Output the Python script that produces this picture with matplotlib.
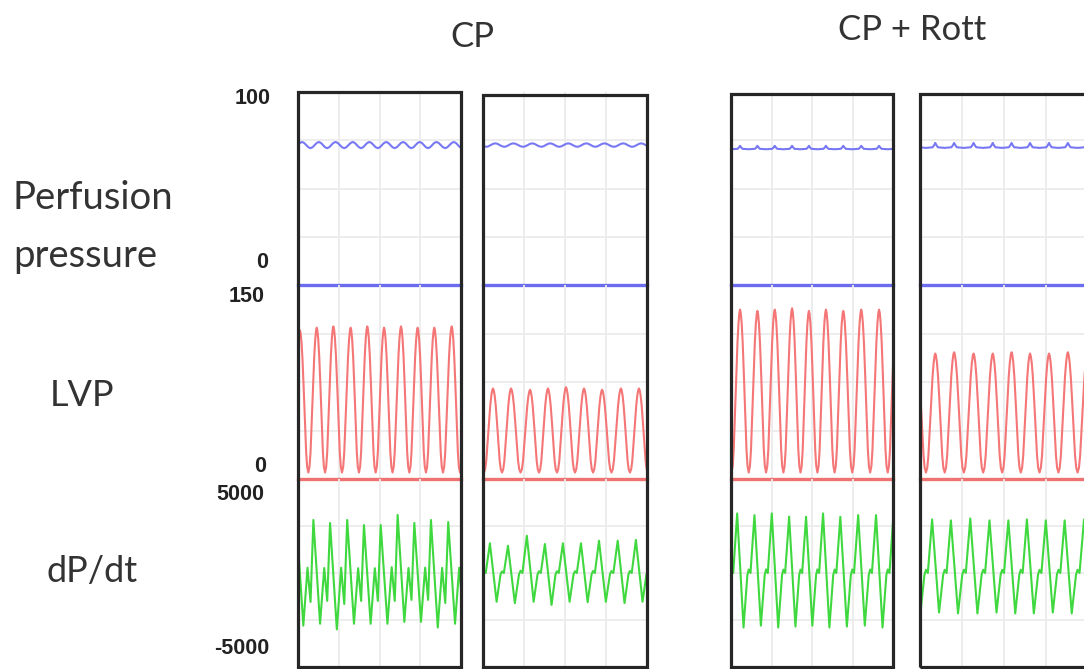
import matplotlib
matplotlib.use("Agg")
import matplotlib.pyplot as plt
from matplotlib.patches import Rectangle

# ---------------- data ----------------
conditions = ["CP", "CP + Rott"]
row_labels = ["Perfusion", "pressure", "LVP", "dP/dt"]
perf_ticks = ["100", "0"]
lvp_ticks = ["150", "0"]
dpdt_ticks = ["5000", "-5000"]

perf_range = [0, 100]
lvp_range = [0, 150]
dpdt_range = [-5000, 5000]

# LVP peak times, as fraction of the displayed window, per panel
p1_peak_t = [-0.09, 0.012, 0.115, 0.217, 0.323, 0.425, 0.528, 0.632, 0.734, 0.836, 0.943, 1.045]
p2_peak_t = [-0.05, 0.061, 0.171, 0.287, 0.396, 0.506, 0.616, 0.726, 0.841, 0.951, 1.06]
p3_peak_t = [-0.05, 0.056, 0.163, 0.270, 0.377, 0.481, 0.586, 0.693, 0.804, 0.914, 1.021]
p4_peak_t = [-0.02, 0.091, 0.203, 0.319, 0.433, 0.545, 0.655, 0.768, 0.880, 0.996, 1.11]

# LVP systolic peak per beat (mmHg)
p1_lvp_sys = [116, 115, 117, 118, 117, 118, 117, 118, 117, 117, 118, 117]
p2_lvp_sys = [69, 70, 70, 69, 70, 71, 70, 69, 70, 70, 70]
p3_lvp_sys = [131, 131, 130, 131, 132, 130, 131, 130, 131, 131, 131]
p4_lvp_sys = [97, 97, 98, 97, 97, 98, 97, 97, 98, 97, 97]
lvp_dia = [5, 5, 5, 5]

# dP/dt max (before each LVP peak) and min (after each LVP peak), mmHg/s
p1_dpdt_max = [2800, 2700, 2820, 2660, 2820, 2550, 2550, 3090, 2660, 2820, 2710, 2800]
p1_dpdt_min = [-2800, -2800, -2700, -3000, -2700, -2700, -2700, -2600, -2600, -2900, -2700, -2800]
p2_dpdt_max = [1600, 1580, 1450, 1980, 1540, 1580, 1580, 1720, 1720, 1760, 1600]
p2_dpdt_min = [-1550, -1530, -1600, -1530, -1700, -1530, -1550, -1530, -1600, -1530, -1550]
p3_dpdt_max = [3100, 3170, 3080, 3170, 3000, 2990, 3170, 2990, 3080, 3080, 3100]
p3_dpdt_min = [-2850, -2900, -2800, -2900, -2850, -2800, -2900, -2850, -2800, -2900, -2850]
p4_dpdt_max = [2800, 2850, 2800, 2900, 2800, 2800, 2850, 2800, 2800, 2850, 2800]
p4_dpdt_min = [-2150, -2100, -2150, -2150, -2100, -2150, -2150, -2100, -2150, -2150, -2100]

# perfusion pressure mean level and ripple amplitude per panel (mmHg)
perf_mean = [72.5, 72.5, 71.0, 72.0]
perf_ripple = [1.6, 0.9, 1.1, 1.6]

# beat shapes (phase after an LVP peak, level)
LVP_PHASE = [0.0, 0.04, 0.09, 0.15, 0.22, 0.3, 0.37, 0.43, 0.5, 0.57, 0.63, 0.7, 0.78, 0.85, 0.91, 0.96]
LVP_LEVEL = [1.0, 0.98, 0.92, 0.8, 0.6, 0.35, 0.14, 0.04, 0.0, 0.04, 0.14, 0.35, 0.6, 0.8, 0.92, 0.98]
DPDT_PHASE = [0.2, 0.42, 0.5, 0.6, 0.83]
DPDT_LEVEL = [-1.0, -0.04, 0.06, 0.0, 1.0]
DPDT_CP_PHASE = [0.2, 0.45, 0.63, 0.8]
DPDT_CP_LEVEL = [-1.0, 0.1, -0.55, 1.0]
PERF_WAVE_PHASE = [0.0, 0.125, 0.25, 0.375, 0.5, 0.625, 0.75, 0.875]
PERF_WAVE_LEVEL = [0.7, 1.0, 0.7, 0.0, -0.7, -1.0, -0.7, 0.0]
PERF_BUMP_PHASE = [0.0, 0.06, 0.14, 0.5, 0.86, 0.94]
PERF_BUMP_LEVEL = [1.0, 0.3, -0.4, -0.6, -0.4, 0.3]

# ---------------- build traces from beats ----------------
def lvp_trace(peaks, sys, dia):
    t, v = [], []
    for i in range(len(peaks) - 1):
        T = peaks[i + 1] - peaks[i]
        for ph, lv in zip(LVP_PHASE, LVP_LEVEL):
            s = sys[i] if ph <= 0.5 else sys[i + 1]
            t.append(peaks[i] + ph * T)
            v.append(dia + (s - dia) * lv)
    t.append(peaks[-1]); v.append(sys[-1])
    return t, v

def dpdt_trace(peaks, mx, mn, phases, levels):
    t, v = [], []
    for i in range(len(peaks) - 1):
        T = peaks[i + 1] - peaks[i]
        for ph, lv in zip(phases, levels):
            t.append(peaks[i] + ph * T)
            v.append(lv * mx[i + 1] if lv > 0 else -lv * mn[i])
    return t, v

def perf_trace(peaks, mean, amp, phases, levels):
    t, v = [], []
    for i in range(len(peaks) - 1):
        T = peaks[i + 1] - peaks[i]
        for ph, lv in zip(phases, levels):
            t.append(peaks[i] + ph * T)
            v.append(mean + amp * lv)
    return t, v

panels = [
    dict(peaks=p1_peak_t, sys=p1_lvp_sys, mx=p1_dpdt_max, mn=p1_dpdt_min,
         dshape=(DPDT_CP_PHASE, DPDT_CP_LEVEL), pshape=(PERF_WAVE_PHASE, PERF_WAVE_LEVEL)),
    dict(peaks=p2_peak_t, sys=p2_lvp_sys, mx=p2_dpdt_max, mn=p2_dpdt_min,
         dshape=(DPDT_PHASE, DPDT_LEVEL), pshape=(PERF_WAVE_PHASE, PERF_WAVE_LEVEL)),
    dict(peaks=p3_peak_t, sys=p3_lvp_sys, mx=p3_dpdt_max, mn=p3_dpdt_min,
         dshape=(DPDT_PHASE, DPDT_LEVEL), pshape=(PERF_BUMP_PHASE, PERF_BUMP_LEVEL)),
    dict(peaks=p4_peak_t, sys=p4_lvp_sys, mx=p4_dpdt_max, mn=p4_dpdt_min,
         dshape=(DPDT_PHASE, DPDT_LEVEL), pshape=(PERF_BUMP_PHASE, PERF_BUMP_LEVEL)),
]

# ---------------- layout ----------------
W, H = 1084, 669
fig = plt.figure(figsize=(W / 100, H / 100), dpi=100)
fig.patch.set_facecolor("white")

def fx(x): return x / W
def fy(y): return 1 - y / H

panel_left = [298, 483, 731, 920]
panel_right = [461, 647, 893, 1088]
panel_top = [92, 95, 94, 94]
strip_edges = [92, 285, 479, 667]

BLUE = "#7878f4"
BLUE_BASE = "#6c6cf0"
RED = "#f47676"
RED_BASE = "#ef7272"
GREEN = "#3fd83f"
GRID = "#ececec"
FONT = "Lato"

for p, pan in enumerate(panels):
    l, r = panel_left[p], panel_right[p]
    axes = []
    for s in range(3):
        ax = fig.add_axes([fx(l), fy(strip_edges[s + 1]), (r - l) / W,
                           (strip_edges[s + 1] - strip_edges[s]) / H])
        ax.set_xlim(0, 1)
        for sp in ax.spines.values():
            sp.set_visible(False)
        ax.tick_params(length=0, labelbottom=False, labelleft=False)
        ax.set_xticks([0.25, 0.5, 0.75])
        ax.grid(True, color=GRID, lw=1.3)
        ax.set_facecolor("none")
        axes.append(ax)
    a0, a1, a2 = axes
    a0.set_ylim(*perf_range)
    a0.set_yticks([25, 50, 75])
    a1.set_ylim(*lvp_range)
    a1.set_yticks([37.5, 75, 112.5])
    a2.set_ylim(*dpdt_range)
    a2.set_yticks([-2500, 0, 2500])

    t, v = perf_trace(pan["peaks"], perf_mean[p], perf_ripple[p], *pan["pshape"])
    a0.plot(t, v, color=BLUE, lw=1.5)
    a0.axhline(0, color=BLUE_BASE, lw=2.4, clip_on=False, zorder=3)

    t, v = lvp_trace(pan["peaks"], pan["sys"], lvp_dia[p])
    a1.plot(t, v, color=RED, lw=1.5)
    a1.axhline(0, color=RED_BASE, lw=2.4, clip_on=False, zorder=3)

    t, v = dpdt_trace(pan["peaks"], pan["mx"], pan["mn"], *pan["dshape"])
    a2.plot(t, v, color=GREEN, lw=1.5)

    fig.patches.append(Rectangle((fx(l), fy(667)), (r - l) / W, (667 - panel_top[p]) / H,
                                 transform=fig.transFigure, fill=False,
                                 edgecolor="#262626", lw=2.3, zorder=10))

# axis value labels
tick_font = dict(family="Liberation Sans", fontweight="bold", fontsize=15.5,
                 color="#222222", ha="right", va="center")
fig.text(fx(271), fy(98), perf_ticks[0], **tick_font)
fig.text(fx(268), fy(263), perf_ticks[1], **tick_font)
fig.text(fx(265), fy(296), lvp_ticks[0], **tick_font)
fig.text(fx(266), fy(467), lvp_ticks[1], **tick_font)
fig.text(fx(264), fy(495), dpdt_ticks[0], **tick_font)
fig.text(fx(269), fy(648), dpdt_ticks[1], **tick_font)

# row labels
lab_font = dict(family=FONT, fontsize=26, color="#333333", ha="left", va="baseline")
fig.text(fx(13), fy(209), row_labels[0], fontsize=27.5,
         **{k: v for k, v in lab_font.items() if k != "fontsize"})
fig.text(fx(13), fy(267), row_labels[1], fontsize=27.5,
         **{k: v for k, v in lab_font.items() if k != "fontsize"})
fig.text(fx(50), fy(406), row_labels[2], **lab_font)
fig.text(fx(47), fy(582), row_labels[3], **lab_font)

# condition titles
title_font = dict(family=FONT, fontsize=25, color="#333333", ha="center", va="baseline")
fig.text(fx(472), fy(47), conditions[0], **title_font)
fig.text(fx(912), fy(40), conditions[1], **title_font)

fig.savefig("out.png", dpi=100, facecolor="white")
